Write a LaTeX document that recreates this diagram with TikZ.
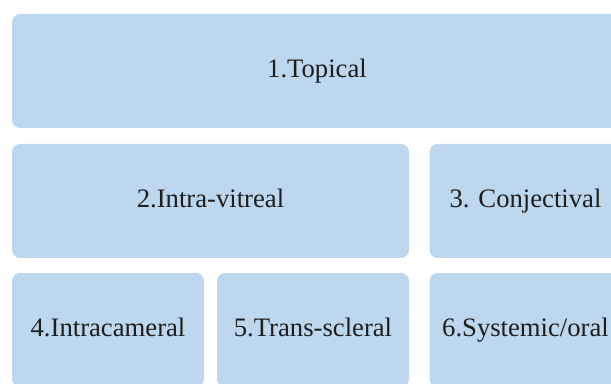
\documentclass[tikz,border=0pt]{standalone}
\usepackage{fontspec}
\setmainfont{Liberation Serif}
\definecolor{BoxBlue}{RGB}{189, 215, 238}
\definecolor{TextDark}{RGB}{30, 30, 30}
\usetikzlibrary{positioning}

\begin{document}
\begin{tikzpicture}[x=0.75pt, y=-0.75pt, font=\fontsize{20}{24}\selectfont,
	box/.style={rectangle, rounded corners=6pt, fill=BoxBlue, text=TextDark, inner sep=0pt,
		text height=1em, text depth=0em, minimum height=85.5pt}]
	\clip (0,0) rectangle (611,384);
	\useasboundingbox (0,0) rectangle (611,384);
	\node[box, minimum width=457.5pt] (topical) at (317,71) {1.Topical};
	\node[box, minimum width=297.75pt] (intravit) at (210.5,201) {2.Intra-vitreal};
	\node[box, minimum width=144pt] (conj) at (525.5,201) {3. Conjectival};
	\node[box, minimum width=144pt] (intracam) at (108,330) {4.Intracameral};
	\node[box, minimum width=144pt] (transscl) at (313,330) {5.Trans-scleral};
	\node[box, minimum width=144pt] (systemic) at (525.5,330) {6.Systemic/oral};
\end{tikzpicture}
\end{document}
